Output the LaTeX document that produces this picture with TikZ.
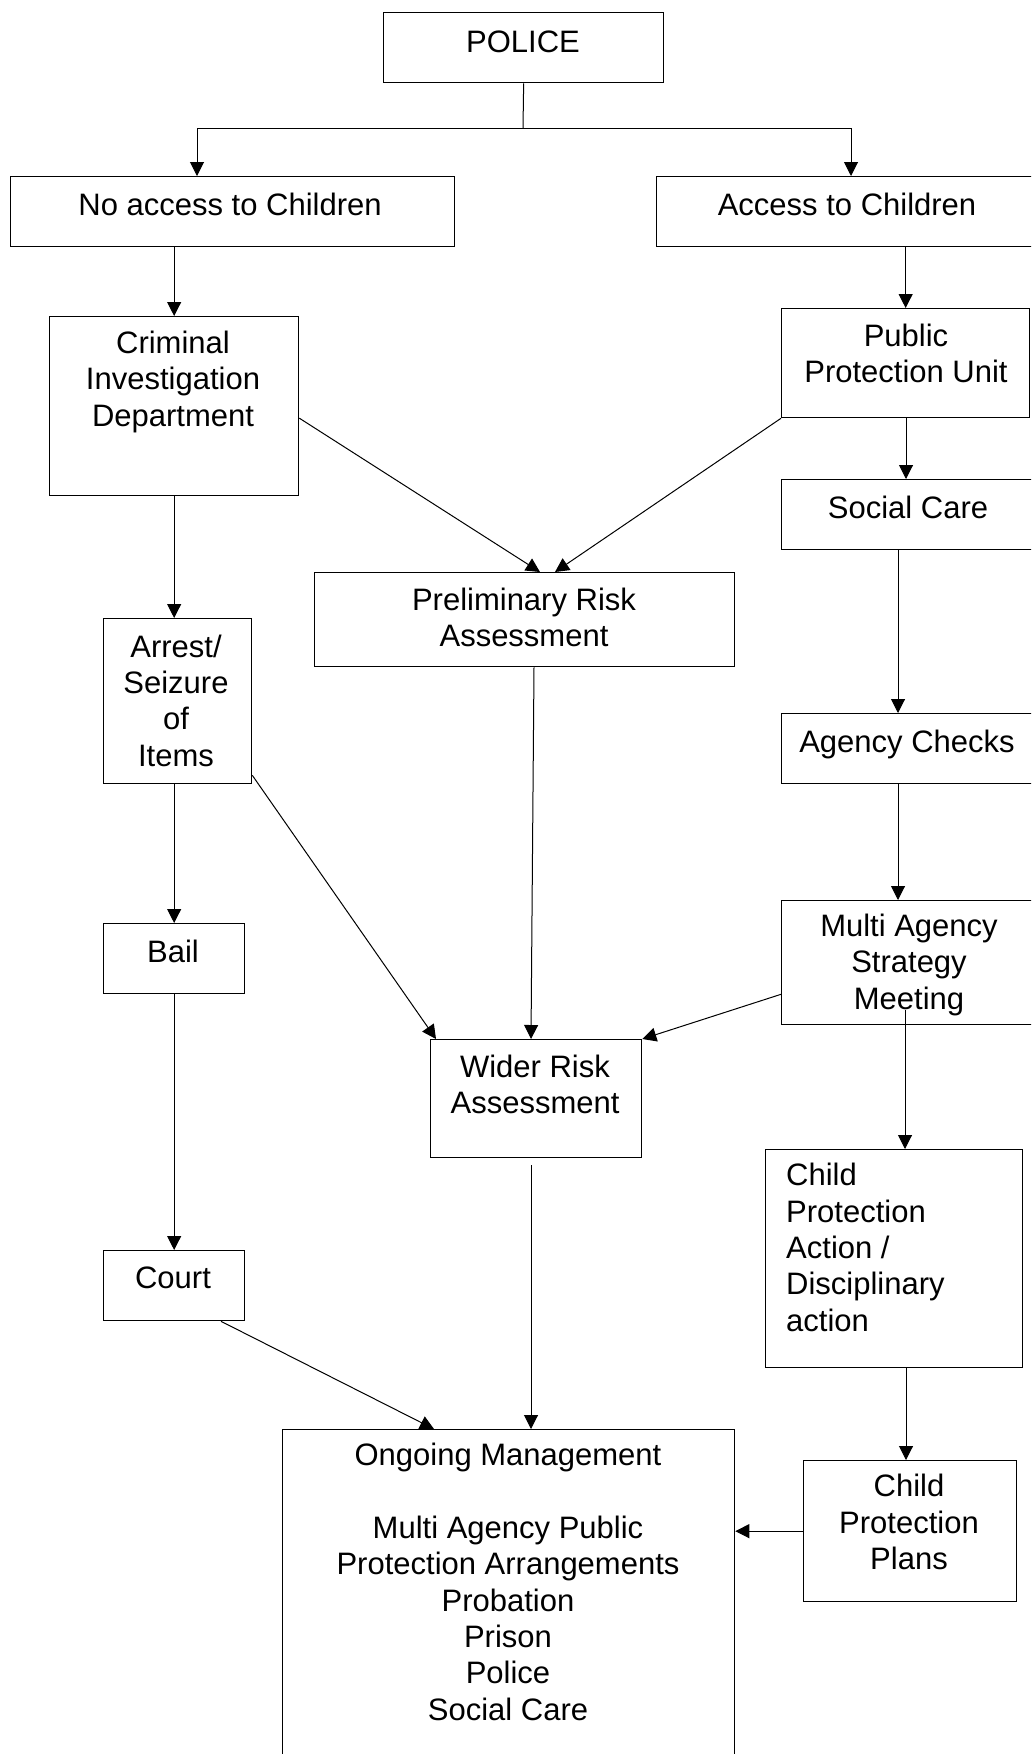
\documentclass[tikz,border=0pt]{standalone}
\usepackage{fontspec}
\setmainfont{Liberation Sans}
\usetikzlibrary{arrows.meta}
\tikzset{
  box/.style={draw, line width=1.3pt, inner sep=0pt, anchor=north west},
  txt/.style={anchor=base, align=center, inner sep=0pt, font=\fontsize{31}{36.3}\selectfont},
  txtl/.style={anchor=base west, align=left, inner sep=0pt, font=\fontsize{31}{36.3}\selectfont},
  conn/.style={line width=1pt},
  arr/.style={line width=1pt, -{Triangle[length=14pt,width=14pt]}}
}
\begin{document}
\begin{tikzpicture}[x=1pt,y=-1pt]
\clip (0,0) rectangle (1031,1754);
\fill[white] (0,0) rectangle (1031,1754);
% boxes
\node[box, minimum width=280pt, minimum height=70pt] (police) at (383,12) {};
\node[box, minimum width=444pt, minimum height=70pt] (noacc) at (10,176) {};
\node[box, minimum width=389pt, minimum height=70pt] (acc) at (656,176) {};
\node[box, minimum width=249pt, minimum height=179pt] (cid) at (49,316) {};
\node[box, minimum width=248pt, minimum height=109pt] (ppu) at (781,308) {};
\node[box, minimum width=264pt, minimum height=70pt] (social) at (781,479) {};
\node[box, minimum width=420pt, minimum height=94pt] (pra) at (314,572) {};
\node[box, minimum width=148pt, minimum height=165pt] (arrest) at (103,618) {};
\node[box, minimum width=264pt, minimum height=70pt] (agency) at (781,713) {};
\node[box, minimum width=264pt, minimum height=124pt] (masm) at (781,900) {};
\node[box, minimum width=141pt, minimum height=70pt] (bail) at (103,923) {};
\node[box, minimum width=211pt, minimum height=118pt] (wra) at (430,1039) {};
\node[box, minimum width=141pt, minimum height=70pt] (court) at (103,1250) {};
\node[box, minimum width=257pt, minimum height=218pt] (cpa) at (765,1149) {};
\node[box, minimum width=452pt, minimum height=371pt] (om) at (282,1429) {};
\node[box, minimum width=213pt, minimum height=141pt] (cpp) at (803,1460) {};
% texts (anchored at the baseline of the last line)
\node[txt] (tpolice) at (523,52) {POLICE};
\node[txt] (tnoacc) at (230,215) {No access to Children};
\node[txt] (tacc) at (847,215) {Access to Children};
\node[txt] (tcid) at (173,426) {Criminal\\Investigation\\Department};
\node[txt] (tppu) at (906,382.5) {Public\\Protection Unit};
\node[txt] (tsocial) at (908,518) {Social Care};
\node[txt] (tpra) at (524,646.5) {Preliminary Risk\\Assessment};
\node[txt] (tarrest) at (176,766) {Arrest/\\Seizure\\of\\Items};
\node[txt] (tagency) at (907,752) {Agency Checks};
\node[txt] (tmasm) at (909,1009) {Multi Agency\\Strategy\\Meeting};
\node[txt] (tbail) at (173,962) {Bail};
\node[txt] (twra) at (535,1113.5) {Wider Risk\\Assessment};
\node[txt] (tcourt) at (173,1288) {Court};
\node[txtl] (tcpa) at (786,1331) {Child\\Protection\\Action /\\Disciplinary\\action};
\node[txt] (tom) at (508,1720) {Ongoing Management\\[36.3pt]Multi Agency Public\\Protection Arrangements\\Probation\\Prison\\Police\\Social Care};
\node[txt] (tcpp) at (909,1569.5) {Child\\Protection\\Plans};
% connectors
\coordinate (j) at (523,128);
\draw[conn] (police.south) -- (j);
\draw[arr] (j) -| ([xshift=187pt]noacc.north west);
\draw[arr] (j) -| ([xshift=195pt]acc.north west);
\draw[arr] (cid.north |- noacc.south) -- (cid.north);
\draw[arr] (ppu.north |- acc.south) -- (ppu.north);
\draw[arr] ([yshift=-12pt]cid.east) -- ([xshift=226pt]pra.north west);
\draw[arr] (ppu.south west) -- ([xshift=241pt]pra.north west);
\draw[arr] ([xshift=125pt]ppu.south west) -- ([xshift=125pt]social.north west);
\draw[arr] (cid.south) -- (cid.south |- arrest.north);
\draw[arr] ([xshift=220pt]pra.south west) -- ([xshift=101pt]wra.north west);
\draw[arr] ([xshift=117pt]social.south west) -- ([xshift=117pt]agency.north west);
\draw[arr] ([xshift=117pt]agency.south west) -- ([xshift=117pt]masm.north west);
\draw[arr] (bail.north |- arrest.south) -- (bail.north);
\draw[arr] ([yshift=9pt]arrest.south east) -- ([xshift=6pt]wra.north west);
\draw[arr] ([yshift=31pt]masm.south west) -- (wra.north east);
\draw[arr] (bail.south) -- (court.north);
\draw[arr] ([xshift=124pt,yshift=-110pt]masm.north west) -- ([xshift=140pt]cpa.north west);
\draw[arr] ([xshift=118pt]court.south west) -- ([xshift=152pt]om.north west);
\draw[arr] ([xshift=101pt,yshift=-7pt]wra.south west) -- ([xshift=249pt]om.north west);
\draw[arr] ([xshift=141pt]cpa.south west) -- ([xshift=103pt]cpp.north west);
\draw[arr] (cpp.west) -- (om.east |- cpp.west);
\end{tikzpicture}
\end{document}
